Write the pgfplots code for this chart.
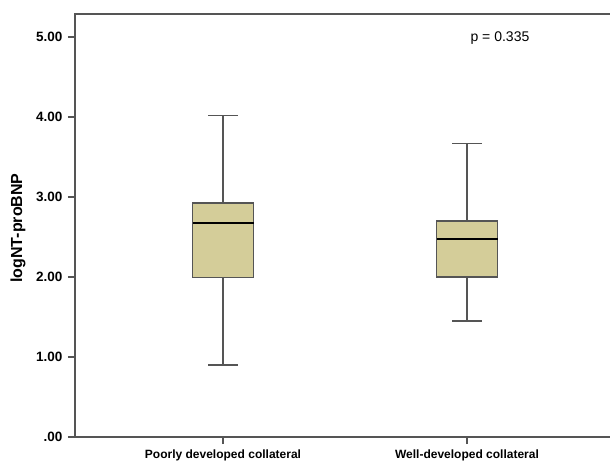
\documentclass[border=0pt]{standalone}
\usepackage{pgfplots}
\pgfplotsset{compat=1.18}
\usepgfplotslibrary{statistics}
\usepackage{fontspec}
\setmainfont{Liberation Sans}
\definecolor{boxfill}{HTML}{D4CD99}
\definecolor{axgray}{HTML}{555555}
\begin{document}
\begin{tikzpicture}
\useasboundingbox (0pt,0pt) rectangle (610pt,461pt);
\clip (0pt,0pt) rectangle (610pt,461pt);
\begin{axis}[
  at={(75pt,24pt)}, anchor=south west,
  scale only axis,
  width=538.4pt, height=423pt,
  xmin=0.3934, xmax=2.6,
  ymin=0, ymax=5.2875,
  axis line style={axgray, line width=1.1pt},
  xtick={1,2},
  xticklabels={Poorly developed collateral, Well-developed collateral},
  ytick={0,1,2,3,4,5},
  yticklabels={.00,1.00,2.00,3.00,4.00,5.00},
  tick align=outside, tick pos=left,
  major tick length=7pt,
  every tick/.style={axgray, line width=1.1pt},
  x tick label style={font=\fontsize{12}{14}\selectfont\bfseries, yshift=-2pt},
  y tick label style={font=\fontsize{13.5}{15}\selectfont\bfseries, xshift=-2pt},
  ylabel={logNT-proBNP},
  every axis y label/.style={at={(rel axis cs:0,0.494)}, xshift=-57pt, rotate=90, anchor=center, font=\fontsize{16}{18}\selectfont\bfseries},
  /pgf/number format/assume math mode=true,
  clip=false,
  boxplot/draw direction=y,
  boxplot/every median/.style={black, line width=2.8pt},
]
\addplot[boxplot prepared={median=2.675, upper quartile=2.925, lower quartile=1.99,
   upper whisker=4.02, lower whisker=0.90, draw position=1,
   box extend=0.25, whisker extend=0.123},
   draw=axgray, fill=boxfill, line width=1.1pt] coordinates {};
\addplot[boxplot prepared={median=2.475, upper quartile=2.70, lower quartile=2.00,
   upper whisker=3.67, lower whisker=1.45, draw position=2,
   box extend=0.25, whisker extend=0.123},
   draw=axgray, fill=boxfill, line width=1.1pt] coordinates {};
\node[font=\fontsize{14}{16}\selectfont] at (axis cs:2.135,4.99) {p = 0.335};
\end{axis}
\end{tikzpicture}
\end{document}
